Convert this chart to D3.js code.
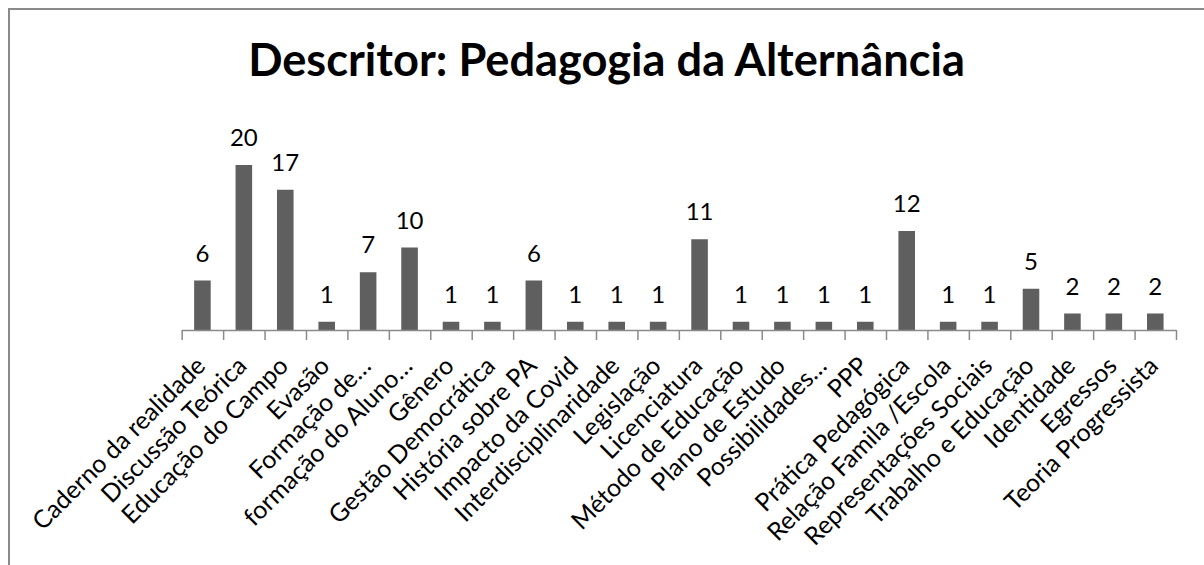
<!DOCTYPE html>
<html>
<head>
<meta charset="utf-8">
<script src="https://cdn.jsdelivr.net/npm/d3@7"></script>
<style>
  body { margin: 0; background: #fff; }
  text { font-family: Lato, "Open Sans", sans-serif; fill: #000; }
</style>
</head>
<body>
<div id="chart"></div>
<script>
// data
const categories = [
  "Caderno da realidade", "Discussão Teórica", "Educação do Campo", "Evasão",
  "Formação de…", "formação do Aluno…", "Gênero", "Gestão Democrática",
  "História sobre PA", "Impacto da Covid", "Interdisciplinaridade", "Legislação",
  "Licenciatura", "Método de Educação", "Plano de Estudo", "Possibilidades…",
  "PPP", "Prática Pedagógica", "Relação Famila /Escola", "Representações Sociais",
  "Trabalho e Educação", "Identidade", "Egressos", "Teoria Progressista"
]
const counts = [6, 20, 17, 1, 7, 10, 1, 1, 6, 1, 1, 1, 11, 1, 1, 1, 1, 12, 1, 1, 5, 2, 2, 2]
const title = "Descritor: Pedagogia da Alternância"

const W = 1204, H = 565
const plot = {left: 181.7, right: 1176, base: 330, top: 165}

const svg = d3.select("#chart").append("svg")
    .attr("width", W)
    .attr("height", H)

// outer frame (runs off the right and bottom edges like the source)
svg.append("rect")
    .attr("x", 9).attr("y", 9)
    .attr("width", W + 20).attr("height", H + 20)
    .attr("fill", "none")
    .attr("stroke", "#8a8a8a")
    .attr("stroke-width", 2)

// scale font so a text spans a given width
function fit(sel, target) {
    const w = sel.node().getComputedTextLength()
    const size = parseFloat(sel.attr("font-size"))
    sel.attr("font-size", size * target / w)
    return size * target / w
}

const titleText = svg.append("text")
    .attr("x", 606.5)
    .attr("y", 76)
    .attr("text-anchor", "middle")
    .attr("font-weight", "bold")
    .attr("font-size", 40)
    .text(title)
fit(titleText, 717)

// scales
const x = d3.scaleBand()
    .domain(categories)
    .range([plot.left, plot.right])
    .paddingInner(0.6)
    .paddingOuter(0.3)
const yScale = d3.scaleLinear()
    .domain([0, 20])
    .range([plot.base, plot.top])
const edges = d3.scaleLinear()
    .domain([0, categories.length])
    .range([plot.left, plot.right])

// measure label size from the first label
const probe = svg.append("text").attr("font-size", 20).text(categories[0])
const labelSize = fit(probe, 232)
probe.remove()

// bars
svg.selectAll(".bar")
    .data(counts)
    .enter()
    .append("rect")
    .attr("class", "bar")
    .attr("x", (d, i) => x(categories[i]))
    .attr("y", d => yScale(d))
    .attr("width", x.bandwidth())
    .attr("height", d => plot.base - yScale(d))
    .attr("fill", "#5f5f5f")

// value labels
svg.selectAll(".val")
    .data(counts)
    .enter()
    .append("text")
    .attr("class", "val")
    .attr("x", (d, i) => x(categories[i]) + x.bandwidth() / 2)
    .attr("y", d => yScale(d) - 19)
    .attr("text-anchor", "middle")
    .attr("font-size", 24)
    .text(d => d)

// x axis with ticks between categories
const xAxis = d3.axisBottom(edges)
    .tickValues(d3.range(categories.length + 1))
    .tickFormat("")
    .tickSize(10)
    .tickSizeOuter(0)
const axisG = svg.append("g")
    .attr("class", "axis x-axis")
    .attr("transform", "translate(0," + plot.base + ")")
    .call(xAxis)
axisG.selectAll("path, line")
    .attr("stroke", "#8a8a8a")
    .attr("stroke-width", 1.5)

// rotated category labels
svg.selectAll(".cat")
    .data(categories)
    .enter()
    .append("text")
    .attr("class", "cat")
    .attr("transform", d => "translate(" + (x(d) + x.bandwidth() / 2) + "," + (plot.base + 33) + ") rotate(-45)")
    .attr("text-anchor", "end")
    .attr("dy", "0.25em")
    .attr("font-size", labelSize)
    .text(d => d)
</script>
</body>
</html>
